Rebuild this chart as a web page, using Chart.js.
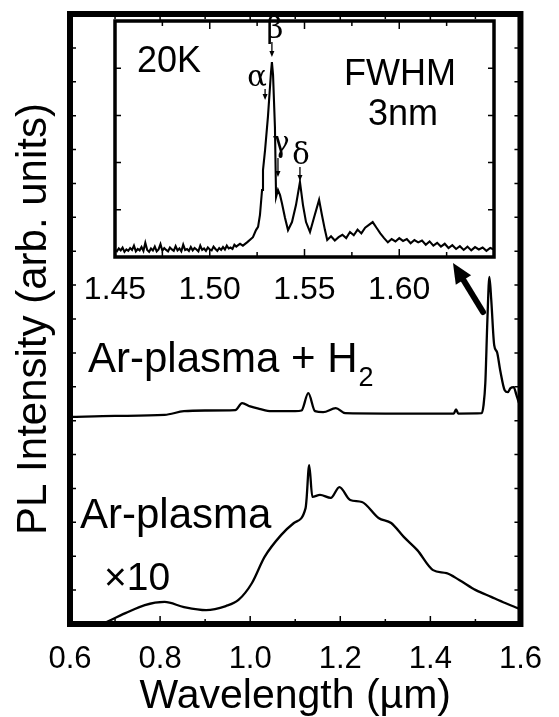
<!DOCTYPE html>
<html>
<head>
<meta charset="utf-8">
<script src="https://cdn.jsdelivr.net/npm/chart.js@4.4.0/dist/chart.umd.min.js"></script>
<style>
  html, body { margin: 0; padding: 0; background: #fff; }
  #wrap { position: relative; width: 559px; height: 717px; }
  #mainChart, #insetChart { position: absolute; left: 0; top: 0; }
</style>
</head>
<body>
<div id="wrap">
  <canvas id="mainChart" width="559" height="717"></canvas>
  <canvas id="insetChart" width="559" height="320"></canvas>
</div>
<script>
// ---- main plot data (wavelength in um, intensity in arb. units) ----
const mainXTicks = [0.6, 0.8, 1.0, 1.2, 1.4, 1.6];

const h2Wavelength = [0.60, 0.70, 0.81, 0.853, 0.90, 0.967, 0.982, 1.00, 1.02, 1.047, 1.10, 1.114,
  1.129, 1.144, 1.162, 1.19, 1.211, 1.30, 1.40, 1.452, 1.457, 1.462, 1.514, 1.518, 1.522, 1.5266,
  1.531, 1.5352, 1.5417, 1.548, 1.555, 1.565, 1.572, 1.578, 1.585, 1.591, 1.596, 1.60];
const h2Intensity = [6.11, 6.14, 6.17, 6.28, 6.30, 6.31, 6.52, 6.42, 6.35, 6.28, 6.28, 6.30,
  6.81, 6.28, 6.25, 6.37, 6.22, 6.21, 6.21, 6.21, 6.33, 6.21, 6.22, 6.45, 7.11, 8.97,
  10.24, 9.56, 8.23, 8.02, 7.49, 6.90, 6.84, 6.96, 6.99, 6.76, 6.55, 6.45];

const arWavelength = [0.68, 0.723, 0.766, 0.81, 0.853, 0.902, 0.946, 0.974, 1.004, 1.032, 1.069,
  1.097, 1.123, 1.125, 1.131, 1.138, 1.155, 1.179, 1.198, 1.222, 1.248, 1.285, 1.313, 1.341,
  1.371, 1.406, 1.436, 1.464, 1.501, 1.535, 1.566, 1.594, 1.60];
const arIntensity = [0.05, 0.32, 0.56, 0.65, 0.50, 0.41, 0.53, 0.71, 1.21, 1.98, 2.63,
  2.98, 3.42, 3.66, 4.69, 3.75, 3.81, 3.72, 4.04, 3.66, 3.60, 3.13, 2.98, 2.57,
  2.18, 1.59, 1.50, 1.30, 1.00, 0.80, 0.62, 0.47, 0.45];

// ---- inset data (20K spectrum) ----
const insetXTicks = [1.45, 1.50, 1.55, 1.60];

// flat noisy floor, 1.450 ... 1.516 every 0.001
const insetFloorStart = 1.450;
const insetFloor = [0.15, 0.12, 0.18, 0.14, 0.20, 0.11, 0.16, 0.13, 0.19, 0.15,
  0.24, 0.12, 0.17, 0.14, 0.21, 0.13, 0.30, 0.15, 0.11, 0.18,
  0.14, 0.22, 0.12, 0.16, 0.27, 0.13, 0.19, 0.15, 0.12, 0.20,
  0.16, 0.13, 0.23, 0.14, 0.18, 0.12, 0.26, 0.15, 0.17, 0.13,
  0.21, 0.14, 0.19, 0.16, 0.12, 0.24, 0.15, 0.18, 0.13, 0.20,
  0.16, 0.14, 0.22, 0.17, 0.13, 0.19, 0.15, 0.21, 0.16, 0.24,
  0.18, 0.20, 0.17, 0.26, 0.22, 0.25, 0.28];

// peak region
const insetPeakWavelength = [1.5175, 1.520, 1.5228, 1.5244, 1.5255, 1.5265, 1.5276, 1.5281,
  1.5292, 1.5307, 1.5323, 1.5328, 1.5334, 1.5344, 1.5350, 1.5360, 1.5371, 1.5381, 1.5397,
  1.5413, 1.5434, 1.5455, 1.5476, 1.5492, 1.5508, 1.5529, 1.5550, 1.5577, 1.5592, 1.5608];
const insetPeakIntensity = [0.24, 0.32, 0.42, 0.57, 0.64, 0.89, 1.42, 1.84,
  2.27, 2.97, 3.90, 4.13, 3.86, 2.75, 1.27, 1.42, 1.31, 1.14, 0.83,
  0.57, 0.74, 1.10, 1.59, 1.10, 0.74, 0.53, 0.83, 1.21, 0.89, 0.57];

// tail, 1.562 ... 1.650 every 0.002
const insetTailStart = 1.562;
const insetTail = [0.36, 0.44, 0.35, 0.42, 0.47, 0.40, 0.53, 0.46, 0.58, 0.50,
  0.62, 0.68, 0.74, 0.62, 0.50, 0.40, 0.31, 0.38, 0.33, 0.40,
  0.34, 0.38, 0.29, 0.36, 0.31, 0.35, 0.26, 0.33, 0.24, 0.30,
  0.22, 0.28, 0.19, 0.25, 0.17, 0.23, 0.15, 0.22, 0.14, 0.21,
  0.16, 0.20, 0.13, 0.19, 0.16];

const FONT = '"Liberation Sans", Arial, Helvetica, sans-serif';
const SERIF = '"DejaVu Serif", "Liberation Serif", serif';

function toPoints(xs, ys) {
  return xs.map((x, i) => ({ x: x, y: ys[i] }));
}
function stepPoints(start, step, ys) {
  return ys.map((y, i) => ({ x: +(start + i * step).toFixed(4), y: y }));
}

const insetPoints = stepPoints(insetFloorStart, 0.001, insetFloor)
  .concat(toPoints(insetPeakWavelength, insetPeakIntensity))
  .concat(stepPoints(insetTailStart, 0.002, insetTail));

// draws a thick frame and inward ticks on all four sides
function drawFrame(chart, frameWidth, xStep, yStep, majorEvery) {
  const { ctx, chartArea: a, scales } = chart;
  const xs = scales.x, ys = scales.y;
  ctx.save();
  ctx.strokeStyle = '#000';
  ctx.lineWidth = 1.5;
  let i = 0;
  for (let v = xs.min; v <= xs.max + 1e-9; v += xStep, i++) {
    const px = xs.getPixelForValue(v);
    const len = (i % majorEvery === 0) ? 8 : 5;
    ctx.beginPath();
    ctx.moveTo(px, a.bottom); ctx.lineTo(px, a.bottom - len);
    ctx.moveTo(px, a.top); ctx.lineTo(px, a.top + len);
    ctx.stroke();
  }
  for (let v = ys.min; v <= ys.max + 1e-9; v += yStep) {
    const py = ys.getPixelForValue(v);
    ctx.beginPath();
    ctx.moveTo(a.left, py); ctx.lineTo(a.left + 6, py);
    ctx.moveTo(a.right, py); ctx.lineTo(a.right - 6, py);
    ctx.stroke();
  }
  ctx.lineWidth = frameWidth;
  ctx.strokeRect(a.left, a.top, a.right - a.left, a.bottom - a.top);
  ctx.restore();
}

function arrow(ctx, x1, y1, x2, y2, width, headLen, headW) {
  const ang = Math.atan2(y2 - y1, x2 - x1);
  const bx = x2 - headLen * Math.cos(ang), by = y2 - headLen * Math.sin(ang);
  ctx.lineWidth = width;
  ctx.beginPath();
  ctx.moveTo(x1, y1); ctx.lineTo(bx, by);
  ctx.stroke();
  ctx.beginPath();
  ctx.moveTo(x2, y2);
  ctx.lineTo(bx + headW / 2 * Math.sin(ang), by - headW / 2 * Math.cos(ang));
  ctx.lineTo(bx - headW / 2 * Math.sin(ang), by + headW / 2 * Math.cos(ang));
  ctx.closePath();
  ctx.fill();
}

const mainDecor = {
  id: 'mainDecor',
  afterDraw(chart) {
    drawFrame(chart, 6, 0.1, 1, 2);
    const ctx = chart.ctx;
    ctx.save();
    ctx.fillStyle = '#000';
    ctx.strokeStyle = '#000';
    ctx.textBaseline = 'alphabetic';
    ctx.font = '42px ' + FONT;
    const lbl = 'Ar-plasma + H';
    ctx.fillText(lbl, 88, 372);
    const w = ctx.measureText(lbl).width;
    ctx.font = '27px ' + FONT;
    ctx.fillText('2', 88 + w + 1, 386);
    ctx.font = '42px ' + FONT;
    ctx.fillText('Ar-plasma', 80, 528);
    ctx.font = '39px ' + FONT;
    ctx.fillText('\u00d710', 104, 590);
    // arrow pointing at the inset
    ctx.lineCap = 'round';
    arrow(ctx, 483, 312, 453, 263, 6, 20, 18);
    ctx.restore();
  }
};

const insetDecor = {
  id: 'insetDecor',
  afterDraw(chart) {
    drawFrame(chart, 3.5, 0.025, 1, 2);
    const ctx = chart.ctx;
    const xs = chart.scales.x;
    ctx.save();
    ctx.fillStyle = '#000';
    ctx.strokeStyle = '#000';
    ctx.textBaseline = 'alphabetic';
    ctx.font = '36px ' + FONT;
    ctx.fillText('20K', 137, 72);
    ctx.textAlign = 'center';
    ctx.fillText('FWHM', 400, 85);
    ctx.fillText('3nm', 403, 125);
    // peak labels with small arrows
    const peaks = [
      { t: '\u03b1', x: 1.5292, ty: 86, a0: 89, a1: 100, dx: -8 },
      { t: '\u03b2', x: 1.5328, ty: 38, a0: 42, a1: 57, dx: 3 },
      { t: '\u03b3', x: 1.5360, ty: 152, a0: 158, a1: 177, dx: 3 },
      { t: '\u03b4', x: 1.5476, ty: 164, a0: 167, a1: 181, dx: 1 }
    ];
    ctx.font = '29px ' + SERIF;
    ctx.lineCap = 'butt';
    peaks.forEach(p => {
      const px = xs.getPixelForValue(p.x);
      ctx.fillText(p.t, px + p.dx, p.ty);
      arrow(ctx, px, p.a0, px, p.a1, 1.3, 6, 5);
    });
    ctx.restore();
  }
};

// main chart
new Chart(document.getElementById('mainChart'), {
  type: 'line',
  data: {
    datasets: [
      {
        label: 'Ar-plasma + H2',
        data: toPoints(h2Wavelength, h2Intensity),
        borderColor: '#000',
        borderWidth: 2.3,
        pointRadius: 0,
        cubicInterpolationMode: 'monotone',
        fill: false
      },
      {
        label: 'Ar-plasma x10',
        data: toPoints(arWavelength, arIntensity),
        borderColor: '#000',
        borderWidth: 2.3,
        pointRadius: 0,
        cubicInterpolationMode: 'monotone',
        fill: false
      }
    ]
  },
  options: {
    responsive: false,
    animation: false,
    layout: { padding: { left: 0, right: 26, top: 14, bottom: 0 } },
    plugins: { legend: { display: false }, tooltip: { enabled: false } },
    scales: {
      x: {
        type: 'linear',
        min: 0.6,
        max: 1.6,
        afterBuildTicks: s => { s.ticks = mainXTicks.map(v => ({ value: v })); },
        afterFit: s => { s.height = 93; },
        grid: { display: false, drawTicks: false },
        border: { display: false },
        ticks: {
          autoSkip: false,
          maxRotation: 0,
          padding: 17,
          color: '#000',
          font: { family: FONT, size: 31 },
          callback: v => v.toFixed(1)
        },
        title: {
          display: true,
          text: 'Wavelength (\u00b5m)',
          color: '#000',
          font: { family: FONT, size: 41, lineHeight: 1.0 },
          padding: { top: 0, bottom: 0 }
        }
      },
      y: {
        type: 'linear',
        min: 0,
        max: 18,
        afterFit: s => { s.width = 70; },
        grid: { display: false, drawTicks: false },
        border: { display: false },
        ticks: { display: false },
        title: {
          display: true,
          text: 'PL Intensity (arb. units)',
          color: '#000',
          font: { family: FONT, size: 42, lineHeight: 1.2 },
          padding: { top: 9, bottom: 0 }
        }
      }
    }
  },
  plugins: [mainDecor]
});

// inset chart
new Chart(document.getElementById('insetChart'), {
  type: 'line',
  data: {
    datasets: [{
      label: '20K',
      data: insetPoints,
      borderColor: '#000',
      borderWidth: 2.1,
      pointRadius: 0,
      tension: 0,
      fill: false
    }]
  },
  options: {
    responsive: false,
    animation: false,
    layout: { padding: { left: 115, right: 65, top: 21, bottom: 0 } },
    plugins: { legend: { display: false }, tooltip: { enabled: false } },
    scales: {
      x: {
        type: 'linear',
        min: 1.45,
        max: 1.65,
        afterBuildTicks: s => { s.ticks = insetXTicks.map(v => ({ value: v })); },
        afterFit: s => { s.height = 63; },
        grid: { display: false, drawTicks: false },
        border: { display: false },
        ticks: {
          autoSkip: false,
          maxRotation: 0,
          padding: 14,
          color: '#000',
          font: { family: FONT, size: 32 },
          callback: v => v.toFixed(2)
        }
      },
      y: {
        type: 'linear',
        min: 0,
        max: 5,
        display: false
      }
    }
  },
  plugins: [insetDecor]
});
</script>
</body>
</html>
